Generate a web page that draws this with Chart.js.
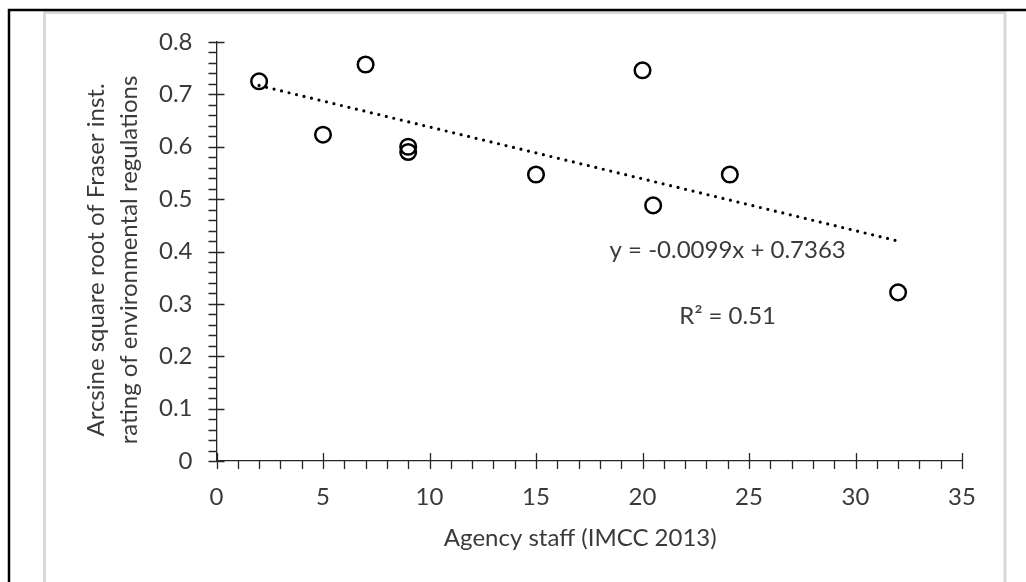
<!DOCTYPE html>
<html>
<head>
<meta charset="utf-8">
<script src="https://cdn.jsdelivr.net/npm/chart.js@4.4.1/dist/chart.umd.min.js"></script>
<style>
  html, body { margin: 0; padding: 0; background: #fff; }
  #wrap { width: 1026px; height: 582px; position: relative; }
</style>
</head>
<body>
<div id="wrap"><canvas id="chart"></canvas></div>
<script>
const staff = [2, 5, 7, 9, 9, 15, 20, 20.5, 24.1, 32];
const rating = [0.725, 0.623, 0.757, 0.600, 0.590, 0.547, 0.746, 0.488, 0.547, 0.322];
const trendX = [2, 32];
const trendY = [0.717, 0.42];
const xTicks = [0, 5, 10, 15, 20, 25, 30, 35];
const yTicks = [0, 0.1, 0.2, 0.3, 0.4, 0.5, 0.6, 0.7, 0.8];
const yTitle = ["Arcsine square root of Fraser inst.", "rating of environmental regulations"];
const xTitle = "Agency staff (IMCC 2013)";
const equation = "y = -0.0099x + 0.7363";
const rSquared = "R² = 0.51";

const font = "Lato";
const textColor = "#3a3a3a";
const axisColor = "#262626";

// frame, ticks, titles and labels drawn around the plot \/
const extras = {
    id: "extras",
    beforeDraw(chart) {
        const c = chart.ctx;
        c.save();
        c.fillStyle = "#fff";
        c.fillRect(0, 0, chart.width, chart.height);
        // light gray chart border
        c.strokeStyle = "#d9d9d9";
        c.lineWidth = 3;
        c.strokeRect(44.5, 12.5, 960.5, 600);
        // black outer lines
        c.strokeStyle = "#000";
        c.lineWidth = 2.5;
        c.beginPath();
        c.moveTo(9, 582);
        c.lineTo(9, 10);
        c.lineTo(1026, 10);
        c.stroke();
        c.restore();
    },
    afterDraw(chart) {
        const c = chart.ctx;
        const xs = chart.scales.x;
        const ys = chart.scales.y;
        const area = chart.chartArea;
        c.save();
        c.strokeStyle = axisColor;
        c.lineWidth = 1.3;
        c.beginPath();
        // x ticks: major crosses the axis, minor below it
        for (let v = 0; v <= 35; v++) {
            const px = Math.round(xs.getPixelForValue(v)) + 0.5;
            if (v % 5 === 0) {
                c.moveTo(px, area.bottom - 8);
                c.lineTo(px, area.bottom + 8);
            } else {
                c.moveTo(px, area.bottom);
                c.lineTo(px, area.bottom + 8);
            }
        }
        // y ticks: major crosses the axis, minor on the left
        for (let i = 0; i <= 40; i++) {
            const py = Math.round(ys.getPixelForValue(i * 0.02)) + 0.5;
            if (i % 5 === 0) {
                c.moveTo(area.left - 8, py);
                c.lineTo(area.left + 8, py);
            } else {
                c.moveTo(area.left - 8, py);
                c.lineTo(area.left, py);
            }
        }
        c.stroke();

        // axis titles
        c.fillStyle = textColor;
        c.font = "24px " + font;
        c.textAlign = "center";
        c.textBaseline = "middle";
        c.fillText(xTitle, (area.left + area.right) / 2 - 9, 538);
        c.save();
        c.translate(96, 260);
        c.rotate(-Math.PI / 2);
        c.fillText(yTitle[0], 0, 0);
        c.fillText(yTitle[1], 0, 33);
        c.restore();

        // trendline labels, placed in data units
        c.fillText(equation, xs.getPixelForValue(24), ys.getPixelForValue(0.403));
        c.fillText(rSquared, xs.getPixelForValue(24), ys.getPixelForValue(0.277));
        c.restore();
    }
};
// frame, ticks, titles and labels drawn around the plot /\

const points = staff.map((x, i) => ({ x: x, y: rating[i] }));
const trend = trendX.map((x, i) => ({ x: x, y: trendY[i] }));

new Chart(document.getElementById("chart"), {
    type: "scatter",
    data: {
        datasets: [{
            label: "trend",
            type: "line",
            data: trend,
            borderColor: "#000",
            borderWidth: 3.2,
            borderDash: [0, 7.7],
            borderCapStyle: "round",
            pointRadius: 0,
            fill: false,
            order: 2
        }, {
            label: "states",
            data: points,
            pointRadius: 7.8,
            pointBorderWidth: 2.5,
            pointBorderColor: "#000",
            pointBackgroundColor: "rgba(255,255,255,0)",
            order: 1
        }]
    },
    options: {
        responsive: true,
        maintainAspectRatio: false,
        animation: false,
        devicePixelRatio: 1,
        layout: { padding: { left: 0, top: 42, right: 64, bottom: 0 } },
        plugins: { legend: { display: false }, tooltip: { enabled: false } },
        scales: {
            x: {
                type: "linear",
                min: 0,
                max: 35,
                afterFit(scale) { scale.height = 121; },
                afterBuildTicks(scale) { scale.ticks = xTicks.map(v => ({ value: v })); },
                grid: { drawOnChartArea: false, drawTicks: false },
                border: { display: true, color: axisColor, width: 1.3 },
                ticks: { padding: 22, color: textColor, font: { family: font, size: 24 } }
            },
            y: {
                type: "linear",
                min: 0,
                max: 0.8,
                afterFit(scale) { scale.width = 216.5; },
                afterBuildTicks(scale) { scale.ticks = yTicks.map(v => ({ value: v })); },
                grid: { drawOnChartArea: false, drawTicks: false },
                border: { display: true, color: axisColor, width: 1.3 },
                ticks: { padding: 24, color: textColor, font: { family: font, size: 24 } }
            }
        }
    },
    plugins: [extras]
});
</script>
</body>
</html>
